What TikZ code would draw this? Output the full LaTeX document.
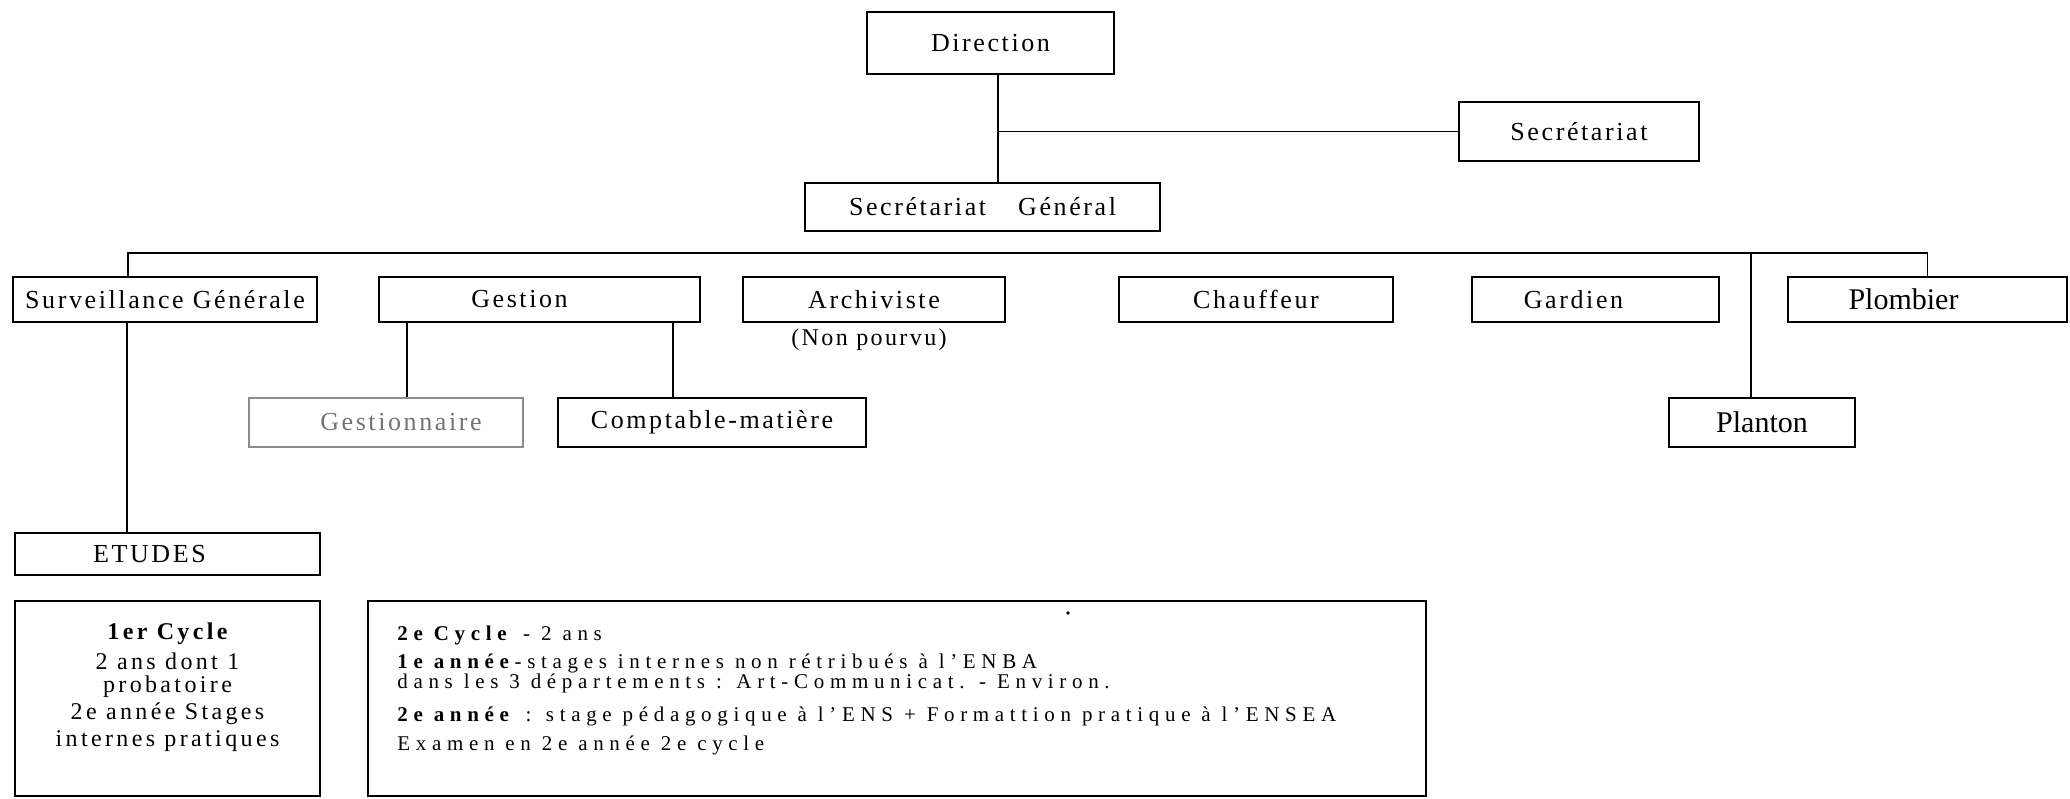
\documentclass[tikz,border=0pt]{standalone}
\usepackage{fontspec}
\setmainfont{Liberation Serif}
\newfontfamily\lblfont{Liberation Serif}[LetterSpace=10]
\newfontfamily\cycfont{Liberation Serif}[LetterSpace=14]
\newfontfamily\cyctfont{Liberation Serif}[LetterSpace=27]
\begin{document}
\begin{tikzpicture}[x=1pt,y=-1pt,
  box/.style={draw, line width=0.9pt, inner sep=0pt, font=\lblfont\fontsize{13}{15}\selectfont},
  bigbox/.style={box, font=\rmfamily\fontsize{15}{17}\selectfont},
  graybox/.style={box, draw=black!45, text=black!55},
  conn/.style={line width=0.8pt},
  cyc/.style={inner sep=0pt, font=\cycfont\fontsize{12}{14}\selectfont},
  cyct/.style={inner sep=0pt, anchor=west, font=\cyctfont\fontsize{10.5}{11}\selectfont}]
\useasboundingbox (0,0) rectangle (1035,399);

% top level
\node[box, minimum width=123.5pt, minimum height=31pt] (dir) at (495.25,21.5) {Direction};
\node[box, minimum width=120pt, minimum height=29.5pt] (sec) at (789.5,65.75) {Secrétariat};
\node[box, minimum width=177.5pt, minimum height=24pt] (sg) at (491.25,103.5) {Secrétariat\hspace{16pt}Général};

% second row
\node[box, minimum width=152pt, minimum height=22.5pt] (surv) at (82.5,149.75) {Surveillance Générale};
\node[box, minimum width=160.5pt, minimum height=22.5pt] (ges) at (269.75,149.75) {Gestion\hspace*{20pt}};
\node[box, minimum width=131pt, minimum height=22.5pt] (arc) at (437,149.75) {Archiviste};
\node[inner sep=0pt, font=\lblfont\fontsize{12}{14}\selectfont] (nonp) at (434.5,170) {(Non pourvu)};
\node[box, minimum width=137pt, minimum height=22.5pt] (cha) at (628,149.75) {Chauffeur};
\node[box, minimum width=123.5pt, minimum height=22.5pt] (gar) at (797.75,149.75) {Gardien\hspace*{22pt}};
\node[bigbox, minimum width=139.5pt, minimum height=22.5pt] (plo) at (963.75,149.75) {Plombier\hspace*{24pt}};

% third row
\node[graybox, minimum width=137pt, minimum height=24.5pt] (gna) at (193,211.25) {\hspace*{15pt}Gestionnaire};
\node[box, minimum width=154pt, minimum height=24.5pt] (cpt) at (356,211.25) {Comptable-matière};
\node[bigbox, minimum width=93pt, minimum height=24.5pt] (pla) at (881,211.25) {Planton};

% etudes
\node[box, minimum width=152.5pt, minimum height=21pt] (etu) at (83.75,277) {ETUDES\hspace*{18pt}};
\node[box, minimum width=152.5pt, minimum height=97.5pt] (c1) at (83.75,349.25) {};
\node[box, minimum width=529pt, minimum height=97.5pt] (c2) at (448.5,349.25) {};

\node[cyc] (c1a) at (83.75,317) {\bfseries 1er Cycle};
\node[cyc] (c1b) at (83.75,330.5) {2 ans dont 1};
\node[cyc] (c1c) at (83.75,343.5) {probatoire};
\node[cyc] (c1d) at (83.75,357) {2e année Stages};
\node[cyc] (c1e) at (83.75,370.5) {internes pratiques};

\node[cyct] (c2a) at (198.5,317.5) {\textbf{2e Cycle} - 2 ans};
\node[cyct] (c2b) at (198.5,331.5) {\textbf{1e année}-stages internes non rétribués à l’ENBA};
\node[cyct] (c2c) at (198.5,341.8) {dans les 3 départements : Art-Communicat. - Environ.};
\node[cyct] (c2d) at (198.5,358) {\textbf{2e année} : stage pédagogique à l’ENS + Formattion pratique à l’ENSEA};
\node[cyct] (c2e) at (198.5,372.5) {Examen en 2e année 2e cycle};

\fill (534,306.5) circle (0.9pt);

% connectors
\coordinate (vx) at (499,0);
\draw[conn] (vx |- dir.south) -- (vx |- sg.north);
\draw[conn] (vx |- sec.west) -- (sec.west);

\coordinate (bl) at (64,126.5);
\draw[conn] (bl |- surv.north) -- (bl) -- (plo.north |- bl) -- (plo.north);
\coordinate (pv) at (875.5,126.5);
\draw[conn] (pv) -- (pv |- pla.north);

\coordinate (g1) at (203.5,0);
\coordinate (g2) at (336.5,0);
\draw[conn] (g1 |- ges.south) -- (g1 |- gna.north);
\draw[conn] (g2 |- ges.south) -- (g2 |- cpt.north);

\coordinate (sv) at (63.5,0);
\draw[conn] (sv |- surv.south) -- (sv |- etu.north);
\end{tikzpicture}
\end{document}
